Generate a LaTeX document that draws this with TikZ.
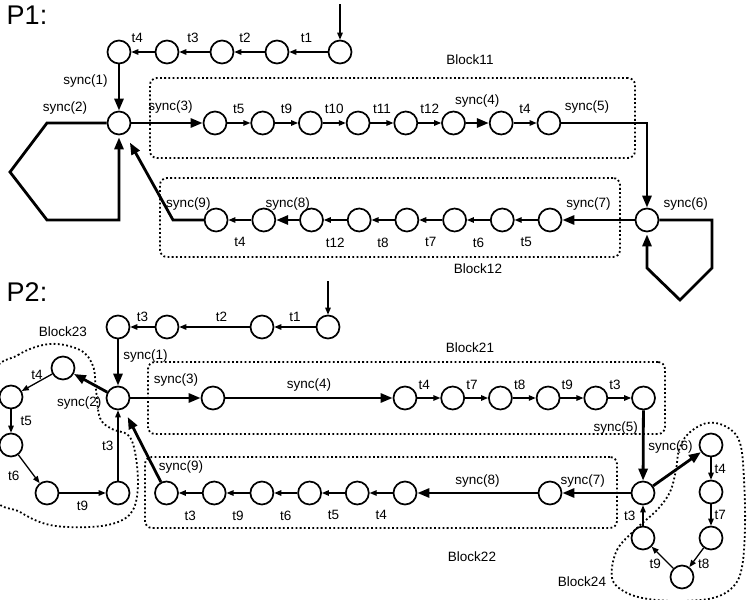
\documentclass[tikz,border=0pt]{standalone}
\usepackage{fontspec}
\setmainfont{Liberation Sans}
\usetikzlibrary{positioning,arrows.meta,fit}

\begin{document}
\begin{tikzpicture}[
  x=1pt, y=-1pt,
  node distance=23pt,
  place/.style={circle, draw, line width=1.7pt, minimum size=23pt, inner sep=0pt},
  arr/.style  ={-{Triangle[length=7pt,width=5.5pt]}, line width=1.3pt},
  sarr/.style ={-{Triangle[length=12pt,width=9pt]}, line width=2.8pt, line join=miter},
  blk/.style  ={draw, line width=1.8pt, dash pattern=on 1.8pt off 2.4pt,
                rounded corners=7pt, inner sep=0pt},
  blob/.style ={line width=1.8pt, dash pattern=on 1.8pt off 2.4pt},
  lab/.style  ={font=\fontsize{13.5}{15}\selectfont, inner sep=1pt},
  title/.style={font=\fontsize{27}{30}\selectfont, inner sep=0pt}
]
\useasboundingbox (0,0) rectangle (748,600);

% ---------------- P1 ----------------
\node[title] (p1) at (27,15) {P1:};

\node[place] (a1) at (340,52) {};
\node[place] (a2) at (277,52) {};
\node[place] (a3) at (222,52) {};
\node[place] (a4) at (167,52) {};
\node[place] (a5) at (119,52) {};
\coordinate (in1) at (340,4);

\node[place] (h1) at (119,123) {};
\node[place] (b1) at (215,123) {};
\node[place, right=of b1] (b2) {};
\node[place, right=of b2] (b3) {};
\node[place, right=of b3] (b4) {};
\node[place, right=of b4] (b5) {};
\node[place, right=of b5] (b6) {};
\node[place, right=of b6] (b7) {};
\node[place, right=of b7] (b8) {};

\node[place] (h2) at (647,220) {};
\node[place] (c1) at (550,220) {};
\node[place, left=of c1] (c2) {};
\node[place, left=of c2] (c3) {};
\node[place, left=of c3] (c4) {};
\node[place, left=of c4] (c5) {};
\node[place, left=of c5] (c6) {};
\node[place, left=of c6] (c7) {};
\node[place, left=of c7] (c8) {};

% loop corners
\coordinate (q1) at (47,123);
\coordinate (q2) at (10,172);
\coordinate (q3) at (47,220);
\coordinate (q4) at (119,220);
\coordinate (r1) at (712,220);
\coordinate (r2) at (712,268);
\coordinate (r3) at (680,300);
\coordinate (r4) at (647,268);
\coordinate (s9) at (173,220);

\node[blk, fit={(150,78) (635,158)}] (blk11) {};
\node[blk, fit={(160,178) (620,257)}] (blk12) {};
\node[lab] (blk11lab) at (470,60) {Block11};
\node[lab] (blk12lab) at (478,269) {Block12};

\draw[arr] (in1) -- (a1);
\draw[arr] (a1) -- node[lab, above=8pt, pos=.55] {t1} (a2);
\draw[arr] (a2) -- node[lab, above=8pt, pos=.65] {t2} (a3);
\draw[arr] (a3) -- node[lab, above=8pt, pos=.55] {t3} (a4);
\draw[arr] (a4) -- node[lab, above=8pt, pos=.75] {t4} (a5);
\draw[sarr] (a5) -- node[lab, left=9pt, pos=.35] {sync(1)} (h1);
\draw[sarr, shorten >=2pt] (h1) -- node[lab, above=6pt, pos=.7] {sync(2)} (q1) -- (q2) -- (q3) -- (q4) -- (h1);
\draw[sarr] (h1) -- node[lab, above=7pt, pos=.55] {sync(3)} (b1);
\draw[arr] (b1) -- node[lab, above=8pt] {t5} (b2);
\draw[arr] (b2) -- node[lab, above=8pt] {t9} (b3);
\draw[arr] (b3) -- node[lab, above=8pt] {t10} (b4);
\draw[arr] (b4) -- node[lab, above=8pt] {t11} (b5);
\draw[arr] (b5) -- node[lab, above=8pt] {t12} (b6);
\draw[sarr] (b6) -- node[lab, above=13pt] {sync(4)} (b7);
\draw[arr] (b7) -- node[lab, above=8pt] {t4} (b8);
\draw[sarr] (b8) -| node[lab, above=7pt, pos=.15] {sync(5)} (h2);
\draw[sarr, shorten >=2pt] (h2) -- node[lab, above=7pt] {sync(6)} (r1) -- (r2) -- (r3) -- (r4) -- (h2);
\draw[sarr] (h2) -- node[lab, above=7pt, pos=.64] {sync(7)} (c1);
\draw[arr] (c1) -- node[lab, below=16pt] {t5} (c2);
\draw[arr] (c2) -- node[lab, below=16pt] {t6} (c3);
\draw[arr] (c3) -- node[lab, below=16pt] {t7} (c4);
\draw[arr] (c4) -- node[lab, below=16pt] {t8} (c5);
\draw[arr] (c5) -- node[lab, below=16pt] {t12} (c6);
\draw[sarr] (c6) -- node[lab, above=7pt] {sync(8)} (c7);
\draw[arr] (c7) -- node[lab, below=16pt] {t4} (c8);
\draw[sarr, shorten >=10pt] (c8) -- node[lab, above=7pt] {sync(9)} (s9) -- (h1);

% ---------------- P2 ----------------
\node[title] (p2) at (27,292) {P2:};

\node[place] (d1) at (328,327) {};
\node[place] (d2) at (262,327) {};
\node[place] (d3) at (167,327) {};
\node[place] (d4) at (118,327) {};
\coordinate (in2) at (328,281);

\node[place] (g1) at (118,398) {};
\node[place] (e1) at (213,398) {};
\node[place] (e2) at (405,398) {};
\node[place, right=of e2] (e3) {};
\node[place, right=of e3] (e4) {};
\node[place, right=of e4] (e5) {};
\node[place, right=of e5] (e6) {};
\node[place, right=of e6] (e7) {};

\node[place] (g2) at (643,493) {};
\node[place] (f1) at (550,493) {};
\node[place] (f2) at (405,493) {};
\node[place, left=of f2] (f3) {};
\node[place, left=of f3] (f4) {};
\node[place, left=of f4] (f5) {};
\node[place, left=of f5] (f6) {};
\node[place, left=of f6] (f7) {};

% Block23 loop
\node[place] (k1) at (63,368) {};
\node[place] (k2) at (11,397) {};
\node[place] (k3) at (11,445) {};
\node[place] (k4) at (47,493) {};
\node[place] (k5) at (118,493) {};

% Block24 loop
\node[place] (m1) at (711,445) {};
\node[place] (m2) at (711,492) {};
\node[place] (m3) at (711,538) {};
\node[place] (m4) at (682,577) {};
\node[place] (m5) at (643,538) {};

\node[blk, fit={(148,362) (665,434)}] (blk21) {};
\node[blk, fit={(145,457) (617,528)}] (blk22) {};
\draw[blob] plot[smooth cycle, tension=.6] coordinates {
  (-8,380) (18,355) (50,344) (80,350) (93,366) (96,390) (100,418) (112,429)
  (128,435) (135,452) (138,485) (133,510) (118,522) (90,527) (50,525)
  (20,512) (-8,490)};
\draw[blob] plot[smooth cycle, tension=.6] coordinates {
  (612,578) (617,550) (637,528) (657,510) (670,492) (676,470) (679,450)
  (688,434) (707,423) (727,427) (740,443) (744,480) (745,527) (742,567)
  (733,587) (713,598) (680,601) (648,599) (625,592)};
\node[lab] (blk21lab) at (470,348) {Block21};
\node[lab] (blk22lab) at (472,557) {Block22};
\node[lab] (blk23lab) at (63,332) {Block23};
\node[lab] (blk24lab) at (582,582) {Block24};

\draw[arr] (in2) -- (d1);
\draw[arr] (d1) -- node[lab, above=4pt] {t1} (d2);
\draw[arr] (d2) -- node[lab, above=4pt, pos=.4] {t2} (d3);
\draw[arr] (d3) -- node[lab, above=4pt] {t3} (d4);
\draw[sarr] (d4) -- node[lab, right=3pt, pos=.35] {sync(1)} (g1);
\draw[sarr] (g1) -- node[lab, above=9pt, pos=.65] {sync(3)} (e1);
\draw[sarr] (e1) -- node[lab, above=4pt] {sync(4)} (e2);
\draw[arr] (e2) -- node[lab, above=7pt, pos=.3] {t4} (e3);
\draw[arr] (e3) -- node[lab, above=7pt, pos=.3] {t7} (e4);
\draw[arr] (e4) -- node[lab, above=7pt, pos=.3] {t8} (e5);
\draw[arr] (e5) -- node[lab, above=7pt, pos=.3] {t9} (e6);
\draw[arr] (e6) -- node[lab, above=7pt, pos=.3] {t3} (e7);
\draw[sarr] (e7) -- node[lab, left=3pt, pos=.25] {sync(5)} (g2);
\draw[sarr] (g2) -- node[lab, above=3pt, pos=.7] {sync(7)} (f1);
\draw[sarr] (f1) -- node[lab, above=3pt] {sync(8)} (f2);
\draw[arr] (f2) -- node[lab, below=16pt] {t4} (f3);
\draw[arr] (f3) -- node[lab, below=16pt] {t5} (f4);
\draw[arr] (f4) -- node[lab, below=16pt] {t6} (f5);
\draw[arr] (f5) -- node[lab, below=16pt] {t9} (f6);
\draw[arr] (f6) -- node[lab, below=16pt] {t3} (f7);
\draw[sarr, shorten >=9pt] (f7) -- node[lab, right=3pt, pos=.2] {sync(9)} (g1);

\draw[sarr] (g1) -- node[lab, anchor=north east, pos=.1, yshift=-4pt] {sync(2)} (k1);
\draw[arr] (k1) -- node[lab, above=1pt] {t4} (k2);
\draw[arr] (k2) -- node[lab, right=8pt] {t5} (k3);
\draw[arr] (k3) -- node[lab, anchor=north east, xshift=-8pt] {t6} (k4);
\draw[arr] (k4) -- node[lab, below=6pt] {t9} (k5);
\draw[arr] (k5) -- node[lab, left=3pt] {t3} (g1);

\draw[sarr] (g2) -- node[lab, anchor=south east, pos=.75, xshift=6pt, yshift=5pt] {sync(6)} (m1);
\draw[arr] (m1) -- node[lab, right=2pt] {t4} (m2);
\draw[arr] (m2) -- node[lab, right=2pt] {t7} (m3);
\draw[arr] (m3) -- node[lab, below right=0pt] {t8} (m4);
\draw[arr] (m4) -- node[lab, below left=0pt] {t9} (m5);
\draw[arr] (m5) -- node[lab, left=6pt] {t3} (g2);
\end{tikzpicture}
\end{document}
